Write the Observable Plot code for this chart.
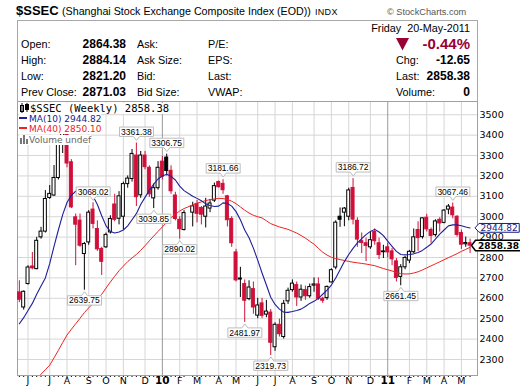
<!DOCTYPE html>
<html><head><meta charset="utf-8">
<script src="https://cdn.jsdelivr.net/npm/d3@7"></script>
<script src="https://cdn.jsdelivr.net/npm/@observablehq/plot@0.6"></script>
<style>
body{margin:0;background:#fff;}
#wrap{position:relative;width:520px;height:391px;overflow:hidden;font-family:"Liberation Sans",Arial,sans-serif;color:#000;background:#fff;}
.a{position:absolute;white-space:nowrap;line-height:14px;}
.lbl{font-size:10.8px;}
.val{font-size:12px;font-weight:bold;text-align:right;}
.leg{position:absolute;white-space:nowrap;background:#fff;line-height:10px;font-family:"DejaVu Sans",sans-serif;font-size:9px;}
#chart{position:absolute;left:0;top:100px;}
</style></head>
<body><div id="wrap">
<div class="a" style="left:16px;top:4px;font-size:13px;font-weight:bold">$SSEC</div>
<div class="a" style="left:62px;top:4.3px;font-size:10.7px">(Shanghai Stock Exchange Composite Index (EOD))</div>
<div class="a" style="left:315px;top:4.7px;font-size:9px;letter-spacing:0.3px">INDX</div>
<div class="a" style="left:387px;top:4.7px;font-size:9.2px;color:#555">© StockCharts.com</div>
<div style="position:absolute;left:17px;top:20px;width:459px;height:80px;border:1px solid #a8a8a8;border-bottom:none"></div>
<div class="a lbl" style="right:50px;top:21.2px">Friday&nbsp;&nbsp;20-May-2011</div>
<div class="a lbl" style="left:21px;top:36.5px">Open:</div>
<div class="a val" style="right:394px;top:36.5px">2864.38</div>
<div class="a lbl" style="left:137px;top:36.5px">Ask:</div>
<div class="a lbl" style="left:208px;top:36.5px">P/E:</div>
<svg style="position:absolute;left:396px;top:37.5px" width="13" height="13"><polygon points="0,0 13,0 6.5,12.5" fill="#990033"/></svg>
<div class="a" style="right:50px;top:35.8px;font-size:15px;font-weight:bold;line-height:16px;color:#990033">-0.44%</div>
<div class="a lbl" style="left:21px;top:53px">High:</div>
<div class="a val" style="right:394px;top:53px">2884.14</div>
<div class="a lbl" style="left:137px;top:53px">Ask Size:</div>
<div class="a lbl" style="left:208px;top:53px">EPS:</div>
<div class="a lbl" style="left:396px;top:53px">Chg:</div>
<div class="a val" style="right:50px;top:53px">-12.65</div>
<div class="a lbl" style="left:21px;top:68.8px">Low:</div>
<div class="a val" style="right:394px;top:68.8px">2821.20</div>
<div class="a lbl" style="left:137px;top:68.8px">Bid:</div>
<div class="a lbl" style="left:208px;top:68.8px">Last:</div>
<div class="a lbl" style="left:396px;top:68.8px">Last:</div>
<div class="a val" style="right:50px;top:68.8px">2858.38</div>
<div class="a lbl" style="left:21px;top:84.5px">Prev Close:</div>
<div class="a val" style="right:394px;top:84.5px">2871.03</div>
<div class="a lbl" style="left:137px;top:84.5px">Bid Size:</div>
<div class="a lbl" style="left:208px;top:84.5px">VWAP:</div>
<div class="a lbl" style="left:396px;top:84.5px">Volume:</div>
<div class="a val" style="right:50px;top:84.5px">0</div>
<div id="chart"></div>
<div class="leg" style="left:19px;top:102.5px;line-height:11px;font-family:'DejaVu Sans Mono',monospace;font-size:10.5px"><svg width="11" height="10" style="vertical-align:-1px"><rect x="1.5" y="2.5" width="3" height="6" fill="#fff" stroke="#000"/><line x1="3" y1="0" x2="3" y2="10" stroke="#000"/><rect x="6.5" y="1.5" width="3" height="5" fill="#000" stroke="#000"/><line x1="8" y1="0" x2="8" y2="9" stroke="#000"/></svg>$SSEC (Weekly) 2858.38</div>
<div class="leg" style="left:19px;top:114px;color:#1a1a8c"><span style="display:inline-block;width:8px;height:2px;background:#1f1f99;vertical-align:3px;margin-right:2px"></span>MA(10) 2944.82</div>
<div class="leg" style="left:19px;top:124.3px;color:#ee1c1c"><span style="display:inline-block;width:8px;height:2px;background:#ee2222;vertical-align:3px;margin-right:2px"></span>MA(40) 2850.10</div>
<div class="leg" style="left:19px;top:134.5px;color:#666"><svg width="10" height="9" style="vertical-align:-1px"><rect x="1" y="3" width="2" height="6" fill="#777"/><rect x="4" y="0" width="2" height="9" fill="#777"/><rect x="7" y="4" width="2" height="5" fill="#777"/></svg>Volume undef</div>
</div>
<script>
// ---- data (weekly bars, dated by the Monday of each week) ----
const weeks = ["2009-05-18","2009-05-25","2009-06-01","2009-06-08","2009-06-15","2009-06-22","2009-06-29","2009-07-06","2009-07-13","2009-07-20","2009-07-27","2009-08-03","2009-08-10","2009-08-17","2009-08-24","2009-08-31","2009-09-07","2009-09-14","2009-09-21","2009-09-28","2009-10-05","2009-10-12","2009-10-19","2009-10-26","2009-11-02","2009-11-09","2009-11-16","2009-11-23","2009-11-30","2009-12-07","2009-12-14","2009-12-21","2009-12-28","2010-01-04","2010-01-11","2010-01-18","2010-01-25","2010-02-01","2010-02-08","2010-02-22","2010-03-01","2010-03-08","2010-03-15","2010-03-22","2010-03-29","2010-04-05","2010-04-12","2010-04-19","2010-04-26","2010-05-03","2010-05-10","2010-05-17","2010-05-24","2010-05-31","2010-06-07","2010-06-14","2010-06-21","2010-06-28","2010-07-05","2010-07-12","2010-07-19","2010-07-26","2010-08-02","2010-08-09","2010-08-16","2010-08-23","2010-08-30","2010-09-06","2010-09-13","2010-09-20","2010-09-27","2010-10-04","2010-10-11","2010-10-18","2010-10-25","2010-11-01","2010-11-08","2010-11-15","2010-11-22","2010-11-29","2010-12-06","2010-12-13","2010-12-20","2010-12-27","2011-01-03","2011-01-10","2011-01-17","2011-01-24","2011-01-31","2011-02-07","2011-02-14","2011-02-21","2011-02-28","2011-03-07","2011-03-14","2011-03-21","2011-03-28","2011-04-04","2011-04-11","2011-04-18","2011-04-25","2011-05-02","2011-05-09","2011-05-16"];
const open = [2629,2555,2670,2756,2743,2899,2927,3092,3104,3190,3360,3410,3267,2997,2981,2817,2874,3035,2940,2842,2850,2923,3060,2990,3000,3160,3185,3300,3105,3300,3240,3090,3140,3270,3290,3225,3104,2985,2935,3020,3063,3043,3000,3040,3079,3170,3161,3100,2989,2825,2692,2670,2596,2645,2515,2575,2520,2530,2360,2470,2410,2585,2640,2665,2604,2640,2610,2662,2668,2598,2601,2678,2751,3000,3020,3000,3141,2980,2880,2870,2850,2925,2870,2826,2850,2830,2781,2705,2752,2785,2826,2935,2900,2995,2935,2910,2985,2970,3035,3045,3000,2920,2865,2870];
const high = [2686,2636,2760,2825,2899,2948,3128,3153,3251,3380,3455,3478,3280,3013,3013,2874,3030,3068.02,2980,2850,2920,3005,3110,3123,3170,3200,3330,3361.38,3320,3320,3250,3160,3270,3295,3306.75,3250,3120,3000,3030,3071,3080,3050,3090,3085,3165,3175,3181.66,3105,3000,2840,2752,2690,2686,2680,2600,2600,2590,2545,2480,2498,2590,2650,2690,2680,2665,2660,2670,2700,2700,2605,2660,2745,2980,3043,3045,3140,3186.72,2995,2920,2895,2925,2940,2895,2860,2870,2845,2795,2765,2805,2835,2940,2975,2995,3012,2945,2985,2995,3035,3060,3067.46,3005,2935,2900,2890];
const low = [2579,2542,2665,2740,2740,2890,2920,3085,3100,3180,3310,3240,3040,2760,2850,2639.75,2860,2940,2830,2712,2845,2915,2975,2960,2935,3140,3170,3050,3090,3230,3095,3039.85,3130,3180,3200,3110,2980,2890.02,2930,2950,2970,2960,2945,3020,3070,3140,3110,2950,2850,2680,2604,2481.97,2588,2522,2500,2500,2505,2319.73,2340,2410,2400,2570,2630,2560,2585,2590,2600,2630,2590,2575,2590,2675,2740,2948,2951,2980,2960,2850,2820,2780,2840,2860,2790,2795,2800,2760,2680,2661.45,2740,2770,2820,2830,2890,2925,2870,2900,2925,2965,3010,2990,2900,2840,2850,2820];
const close = [2593,2632,2751,2747,2882,2927,3087,3112,3190,3357,3412,3261,3046,2961,2858,2866,3020,2965,2840,2779,2911,2989,2985,3100,3160,3187,3308,3096,3300,3243,3110,3140,3240,3196,3224,3125,2989,2939,3018,3051,3014,3010,3050,3065,3150,3145,3130,2983,2870,2688,2697,2588,2653,2555,2565,2514,2535,2382,2470,2424,2573,2637,2672,2604,2642,2610,2655,2668,2598,2588,2656,2738,2971,2985,3040,3129,2986,2888,2871,2857,2885,2880,2812,2830,2825,2791,2700,2752,2798,2828,2899,2895,2992,2938,2906,2977,2967,3030,3050,3007,2911,2863,2871,2858.38];
const ma10 = [2475,2505,2540,2575,2620,2660,2700,2770,2855,2935,3010,3070,3105,3125,3132,3130,3120,3100,3060,3005,2955,2928,2920,2925,2935,2955,2985,3015,3060,3095,3130,3160,3185,3200,3208,3198,3180,3150,3128,3100,3090,3078,3063,3055,3050,3052,3068,3065,3052,3025,2985,2935,2897,2846,2787,2724,2665,2605,2570,2547,2532,2531,2535,2540,2547,2560,2575,2585,2600,2620,2640,2665,2700,2740,2780,2815,2845,2872,2893,2912,2928,2938,2925,2907,2880,2855,2830,2815,2813,2815,2818,2825,2835,2850,2866,2890,2915,2935,2955,2960,2960,2956,2950,2944.82];
const ma40 = [2110,2130,2150,2175,2200,2228,2250,2272,2308,2345,2383,2420,2448,2475,2502,2530,2553,2575,2598,2620,2650,2680,2708,2735,2758,2780,2798,2815,2835,2858,2882,2905,2928,2950,2973,2995,3012,3028,3040,3058,3066,3073,3079,3084,3087,3090,3089,3085,3076,3064,3048,3032,3018,3007,3000,2994,2980,2966,2958,2950,2944,2938,2929,2920,2908,2895,2880,2865,2845,2826,2812,2801,2795,2790,2785,2781,2777,2774,2771,2768,2764,2760,2753,2746,2740,2734,2727,2721,2719,2720,2724,2730,2739,2749,2759,2769,2779,2789,2799,2809,2819,2830,2840,2850.10];
const priceTicks = [2300,2400,2500,2600,2700,2800,2900,3000,3100,3200,3300,3400,3500];
const monthTickDates = ["2009-06-01","2009-07-06","2009-08-03","2009-09-07","2009-10-05","2009-11-02","2009-12-07","2010-01-04","2010-02-01","2010-03-01","2010-04-05","2010-05-03","2010-06-07","2010-07-05","2010-08-02","2010-09-06","2010-10-04","2010-11-01","2010-12-06","2011-01-03","2011-02-07","2011-03-07","2011-04-04","2011-05-02"];
const monthTickLabels = ["J","J","A","S","O","N","D","10","F","M","A","M","J","J","A","S","O","N","D","11","F","M","A","M"];
const highLabelWeeks = ["2009-09-14","2009-11-23","2010-01-11","2010-04-12","2010-11-08","2011-04-18"];
const highLabelValues = [3068.02,3361.38,3306.75,3181.66,3186.72,3067.46];
const lowLabelWeeks = ["2009-08-31","2009-12-21","2010-02-01","2010-05-17","2010-06-28","2011-01-24"];
const lowLabelValues = [2639.75,3039.85,2890.02,2481.97,2319.73,2661.45];

const RED = "#d0103a", BLACK = "#000";
const bars = weeks.map((w, i) => {
  const prev = i ? close[i - 1] : open[i];
  const color = close[i] < prev ? RED : BLACK;
  return {date: new Date(w), open: open[i], high: high[i], low: low[i], close: close[i], ma10: ma10[i], ma40: ma40[i],
          color, fill: close[i] < open[i] ? color : "#fff"};
});
const months = monthTickDates.map((d, i) => ({date: new Date(d), label: monthTickLabels[i], year: /^\d+$/.test(monthTickLabels[i])}));
const highs = highLabelWeeks.map((d, i) => ({date: new Date(d), value: highLabelValues[i]}));
const lows = lowLabelWeeks.map((d, i) => ({date: new Date(d), value: lowLabelValues[i]}));
const last = bars[bars.length - 1];

const chart = Plot.plot({
  width: 520, height: 291,
  marginLeft: 17, marginRight: 43, marginTop: 1, marginBottom: 16,
  style: {fontFamily: "DejaVu Sans, sans-serif", fontSize: "9.5px", color: "#000", background: "transparent", overflow: "visible"},
  x: {type: "utc", domain: [new Date("2009-05-15"), new Date("2011-05-28")], ticks: bars.map(d => d.date), tickSize: 2, tickFormat: () => "", label: null},
  y: {domain: [2221.5, 3565], axis: "right", ticks: priceTicks, tickSize: 0, tickPadding: 2, tickFormat: "d", label: null},
  marks: [
    Plot.ruleY(priceTicks, {stroke: "#d6d6d6"}),
    Plot.ruleX(months.filter(d => !d.year), {x: "date", stroke: "#d6d6d6"}),
    Plot.ruleX(months.filter(d => d.year), {x: "date", stroke: "#9a9a9a"}),
    Plot.frame({stroke: "#a0a0a0"}),
    Plot.ruleX(bars, {x: "date", y1: "low", y2: "high", stroke: "color", clip: true}),
    Plot.rect(bars, {x1: d => d3.utcHour.offset(d.date, -58), x2: d => d3.utcHour.offset(d.date, 58), y1: "open", y2: "close", fill: "fill", stroke: "color", clip: true}),
    Plot.line(bars, {x: "date", y: "ma40", stroke: "#ee2222", strokeWidth: 1, clip: true}),
    Plot.line(bars, {x: "date", y: "ma10", stroke: "#1f1f99", strokeWidth: 1.1, clip: true}),
    Plot.text(highs, {x: "date", y: "value", text: d => d.value.toFixed(2), dy: -11, fontFamily: "Liberation Sans, Arial, sans-serif", fontSize: 8.5}),
    Plot.text(lows, {x: "date", y: "value", text: d => d.value.toFixed(2), dy: 10.5, fontFamily: "Liberation Sans, Arial, sans-serif", fontSize: 8.5}),
    Plot.text(months.filter(d => !d.year), {x: "date", text: "label", frameAnchor: "bottom", dy: 8, fontSize: 9.5}),
    Plot.text(months.filter(d => d.year), {x: "date", text: "label", frameAnchor: "bottom", dy: 8, fontSize: 10.5, fontWeight: "bold"}),
    Plot.text([last], {y: "ma10", text: d => d.ma10.toFixed(2), frameAnchor: "right", textAnchor: "start", dx: 3, fill: "#1a1a80", fontSize: 9}),
    Plot.text([last], {y: "close", text: d => d.close.toFixed(2), frameAnchor: "right", textAnchor: "start", dx: 0.5, fill: "#000", fontSize: 9, fontWeight: "bold"})
  ]
});
document.getElementById("chart").appendChild(chart);

// decorate label texts with boxes (sized from the rendered text)
const NS = "http://www.w3.org/2000/svg";
const styles = new Map();
highLabelValues.forEach(v => styles.set(v.toFixed(2), {px: 1.5, py: -0.3, kind: "down", stroke: "#bdbdbd", sw: 1}));
lowLabelValues.forEach(v => styles.set(v.toFixed(2), {px: 1.5, py: -0.3, kind: "up", stroke: "#bdbdbd", sw: 1}));
styles.set(last.ma10.toFixed(2), {px: 1.5, py: -0.6, kind: "arrow", stroke: "#1a1a80", sw: 1});
styles.set(last.close.toFixed(2), {px: 2.5, py: 0.3, kind: "arrow", stroke: "#000", sw: 1.5});
chart.querySelectorAll("text").forEach(t => {
  const o = styles.get(t.textContent.trim());
  if (!o) return;
  const b = t.getBBox();
  const x0 = b.x - o.px, x1 = b.x + b.width + o.px, y0 = b.y - o.py, y1 = b.y + b.height + o.py;
  const cx = (x0 + x1) / 2, cy = (y0 + y1) / 2;
  let d;
  if (o.kind === "down") d = `M${x0},${y0}H${x1}V${y1}H${cx + 3}L${cx},${y1 + 4}L${cx - 3},${y1}H${x0}Z`;
  else if (o.kind === "up") d = `M${x0},${y0}H${cx - 3}L${cx},${y0 - 4}L${cx + 3},${y0}H${x1}V${y1}H${x0}Z`;
  else d = `M${x0},${y0}H${x1}V${y1}H${x0}L${x0 - 4},${cy}Z`;
  const p = document.createElementNS(NS, "path");
  p.setAttribute("d", d);
  p.setAttribute("fill", "#fff");
  p.setAttribute("stroke", o.stroke);
  p.setAttribute("stroke-width", o.sw);
  if (t.getAttribute("transform")) p.setAttribute("transform", t.getAttribute("transform"));
  t.parentNode.insertBefore(p, t);
});
</script>
</body></html>
